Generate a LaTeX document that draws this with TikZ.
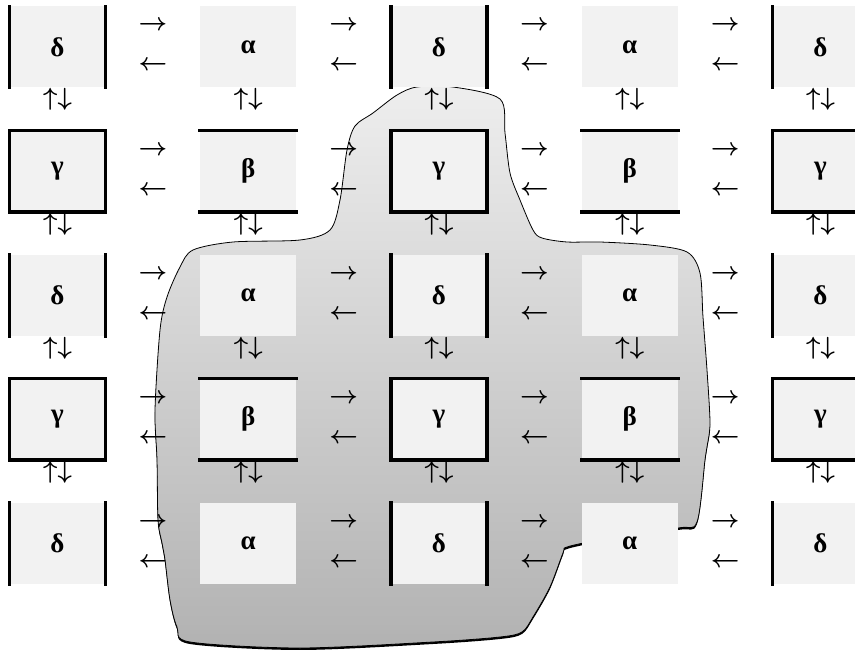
\documentclass[tikz,border=0pt]{standalone}
\usepackage{fontspec}
\setmainfont{Liberation Serif}
\definecolor{boxfill}{HTML}{F2F2F2}
\definecolor{blobtop}{HTML}{EEEEEE}
\definecolor{blobbot}{HTML}{B2B2B2}
\begin{document}
\begin{tikzpicture}[x=1pt,y=-1pt,
  cell/.style={fill=boxfill, minimum width=96pt, minimum height=81pt, inner sep=0pt,
               font=\fontsize{27}{30}\selectfont\bfseries},
  glyph/.style={inner sep=0pt, anchor=base, font=\fontsize{25}{28}\selectfont\boldmath},
  rim/.style={line width=3.5pt, line cap=rect}]
\useasboundingbox (0,0) rectangle (855,650);
\clip (0,0) rectangle (855,650);
% shadow of the blob
\fill[black] plot[smooth cycle, tension=0.5] coordinates {
 (355,128) (373,115) (397,97) (417,89) (453,89) (500,101) (505,135) (510,175)
 (520,202) (533,232) (542,240) (567,244) (600,244) (650,247) (687,254) (700,275)
 (703,319) (707,372) (710,425) (707,449) (705,462) (697,524) (678,530) (600,542)
 (567,549) (563,555) (550,589) (533,619) (522,634) (500,639) (433,644) (300,650)
 (190,644) (177,629) (170,602) (165,562) (162,545) (158,522) (157,462) (155,412)
 (160,332) (167,299) (180,269) (193,252) (233,244) (300,242) (330,232) (340,202)
 (347,152)};
% the blob
\shade[top color=blobtop, bottom color=blobbot, draw=black, line width=0.8pt]
 plot[smooth cycle, tension=0.5] coordinates {
 (355,126) (373,113) (397,95) (417,87) (453,87) (500,99) (505,133) (510,173)
 (520,200) (533,230) (542,238) (567,242) (600,242) (650,245) (687,252) (700,273)
 (703,317) (707,370) (710,423) (707,447) (705,460) (697,522) (678,528) (600,540)
 (567,547) (563,553) (550,587) (533,617) (522,632) (500,637) (433,642) (300,648)
 (190,642) (177,627) (170,600) (165,560) (162,543) (158,520) (157,460) (155,410)
 (160,330) (167,297) (180,267) (193,250) (233,242) (300,240) (330,230) (340,200)
 (347,150)};
% boxes
\foreach \j in {0,...,4}{
 \foreach \i in {0,...,4}{
   \pgfmathsetmacro\cx{57.5+190.75*\i}
   \pgfmathsetmacro\cy{47+124.1*\j}
   \pgfmathtruncatemacro\t{mod(\i,2)+2*mod(\j,2)}
   \ifcase\t \def\lab{δ}\or \def\lab{α}\or \def\lab{γ}\or \def\lab{β}\fi
   \node[cell] (b\i\j) at (\cx,\cy) {\lab};
   \ifcase\t
     \draw[rim] (b\i\j.north west) -- (b\i\j.south west) (b\i\j.north east) -- (b\i\j.south east);
   \or
   \or
     \draw[rim] (b\i\j.north west) rectangle (b\i\j.south east);
   \or
     \draw[rim] (b\i\j.north west) -- (b\i\j.north east) (b\i\j.south west) -- (b\i\j.south east);
   \fi
 }}
% horizontal glyph arrows
\foreach \j in {0,...,4}{
 \foreach \i in {0,...,3}{
   \pgfmathsetmacro\cx{57.5+190.75*\i+95.4}
   \pgfmathsetmacro\cy{47+124.1*\j}
   \node[glyph] (r\i\j) at (\cx,\cy-16) {$\rightarrow$};
   \node[glyph] (l\i\j) at (\cx,\cy+24) {$\leftarrow$};
 }}
% vertical glyph arrows
\foreach \j in {0,...,3}{
 \foreach \i in {0,...,4}{
   \pgfmathsetmacro\cx{57.5+190.75*\i}
   \pgfmathsetmacro\cy{47+124.1*\j+59}
   \node[glyph] (v\i\j) at (\cx,\cy) {$\uparrow\downarrow$};
 }}
\end{tikzpicture}
\end{document}
